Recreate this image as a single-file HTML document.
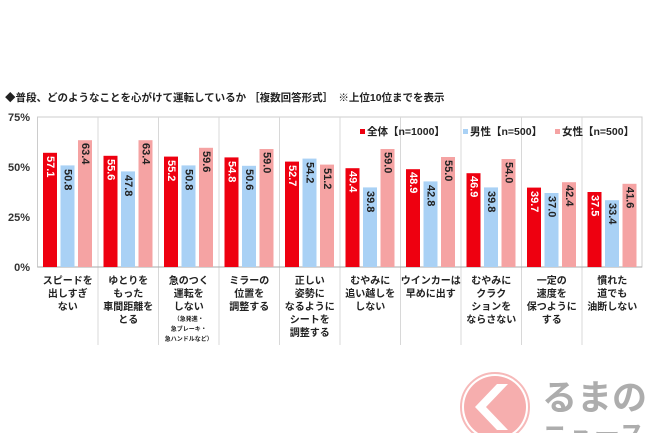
<!DOCTYPE html>
<html><head><meta charset="utf-8"><style>
html,body{margin:0;background:#fff;width:650px;height:433px;overflow:hidden}
svg{display:block;font-family:"Liberation Sans","Noto Sans CJK JP",sans-serif}
.v{font-size:11px;font-weight:bold;dominant-baseline:central}
.c{font-size:10px;font-weight:bold;text-anchor:middle;fill:#222}
.s{font-size:6px;font-weight:bold;text-anchor:middle;fill:#222}
.y{font-size:11px;font-weight:bold;text-anchor:end;fill:#333}
</style></head><body>
<svg width="650" height="433" viewBox="0 0 650 433">
<text x="5" y="101" font-size="10.5" font-weight="bold" fill="#222">◆普段、どのようなことを心がけて運転しているか ［複数回答形式］　※上位10位までを表示</text>
<rect x="37.5" y="117" width="604.5" height="150" fill="none" stroke="#ccc"/>
<g stroke="#d8d8d8">
<line x1="98" y1="117" x2="98" y2="345"/><line x1="158.5" y1="117" x2="158.5" y2="345"/><line x1="219" y1="117" x2="219" y2="345"/><line x1="279.5" y1="117" x2="279.5" y2="345"/><line x1="340" y1="117" x2="340" y2="345"/><line x1="400.5" y1="117" x2="400.5" y2="345"/><line x1="461" y1="117" x2="461" y2="345"/><line x1="521.5" y1="117" x2="521.5" y2="345"/><line x1="582" y1="117" x2="582" y2="345"/>
</g>
<line x1="37.5" y1="267" x2="642" y2="267" stroke="#aaa"/>
<text class="y" x="30" y="121">75%</text><text class="y" x="30" y="171">50%</text><text class="y" x="30" y="221">25%</text><text class="y" x="30" y="271">0%</text>
<g fill="#ee0010">
<rect x="43" y="152.8" width="14" height="114.2"/><rect x="103.5" y="155.8" width="14" height="111.2"/><rect x="164" y="156.6" width="14" height="110.4"/><rect x="224.5" y="157.4" width="14" height="109.6"/><rect x="285" y="161.6" width="14" height="105.4"/><rect x="345.5" y="168.2" width="14" height="98.8"/><rect x="406" y="169.2" width="14" height="97.8"/><rect x="466.5" y="173.2" width="14" height="93.8"/><rect x="527" y="187.6" width="14" height="79.4"/><rect x="587.5" y="192" width="14" height="75"/>
</g>
<g fill="#a9d1f5">
<rect x="60.5" y="165.4" width="14" height="101.6"/><rect x="121" y="171.4" width="14" height="95.6"/><rect x="181.5" y="165.4" width="14" height="101.6"/><rect x="242" y="165.8" width="14" height="101.2"/><rect x="302.5" y="158.6" width="14" height="108.4"/><rect x="363" y="187.4" width="14" height="79.6"/><rect x="423.5" y="181.4" width="14" height="85.6"/><rect x="484" y="187.4" width="14" height="79.6"/><rect x="544.5" y="193" width="14" height="74"/><rect x="605" y="200.2" width="14" height="66.8"/>
</g>
<g fill="#f5a3a3">
<rect x="78" y="140.2" width="14" height="126.8"/><rect x="138.5" y="140.2" width="14" height="126.8"/><rect x="199" y="147.8" width="14" height="119.2"/><rect x="259.5" y="149" width="14" height="118"/><rect x="320" y="164.6" width="14" height="102.4"/><rect x="380.5" y="149" width="14" height="118"/><rect x="441" y="157" width="14" height="110"/><rect x="501.5" y="159" width="14" height="108"/><rect x="562" y="182.2" width="14" height="84.8"/><rect x="622.5" y="183.8" width="14" height="83.2"/>
</g>
<g class="v" fill="#fff">
<text transform="translate(50,156) rotate(90)">57.1</text><text transform="translate(110.5,159) rotate(90)">55.6</text><text transform="translate(171,160) rotate(90)">55.2</text><text transform="translate(231.5,161) rotate(90)">54.8</text><text transform="translate(292,165) rotate(90)">52.7</text><text transform="translate(352.5,171) rotate(90)">49.4</text><text transform="translate(413,172) rotate(90)">48.9</text><text transform="translate(473.5,176) rotate(90)">46.9</text><text transform="translate(534,191) rotate(90)">39.7</text><text transform="translate(594.5,195) rotate(90)">37.5</text>
</g>
<g class="v" fill="#222">
<text transform="translate(67.5,169) rotate(90)">50.8</text><text transform="translate(128,175) rotate(90)">47.8</text><text transform="translate(188.5,169) rotate(90)">50.8</text><text transform="translate(249,169) rotate(90)">50.6</text><text transform="translate(309.5,162) rotate(90)">54.2</text><text transform="translate(370,191) rotate(90)">39.8</text><text transform="translate(430.5,185) rotate(90)">42.8</text><text transform="translate(491,191) rotate(90)">39.8</text><text transform="translate(551.5,196) rotate(90)">37.0</text><text transform="translate(612,203) rotate(90)">33.4</text>
<text transform="translate(85,143) rotate(90)">63.4</text><text transform="translate(145.5,143) rotate(90)">63.4</text><text transform="translate(206,151) rotate(90)">59.6</text><text transform="translate(266.5,152) rotate(90)">59.0</text><text transform="translate(327,168) rotate(90)">51.2</text><text transform="translate(387.5,152) rotate(90)">59.0</text><text transform="translate(448,160) rotate(90)">55.0</text><text transform="translate(508.5,162) rotate(90)">54.0</text><text transform="translate(569,185) rotate(90)">42.4</text><text transform="translate(629.5,187) rotate(90)">41.6</text>
</g>
<g font-size="10.5" font-weight="bold" fill="#222">
<rect x="360" y="129" width="5" height="5" fill="#ee0010"/><text x="367" y="135">全体【n=1000】</text>
<rect x="463" y="129" width="5" height="5" fill="#a9d1f5"/><text x="470" y="135">男性【n=500】</text>
<rect x="555" y="129" width="5" height="5" fill="#f5a3a3"/><text x="562" y="135">女性【n=500】</text>
</g>
<g class="c">
<text x="67.75" y="284">スピードを</text><text x="67.75" y="297">出しすぎ</text><text x="67.75" y="310">ない</text>
<text x="128.25" y="284">ゆとりを</text><text x="128.25" y="297">もった</text><text x="128.25" y="310">車間距離を</text><text x="128.25" y="323">とる</text>
<text x="188.75" y="284">急のつく</text><text x="188.75" y="297">運転を</text><text x="188.75" y="310">しない</text>
<text x="249.25" y="284">ミラーの</text><text x="249.25" y="297">位置を</text><text x="249.25" y="310">調整する</text>
<text x="309.75" y="284">正しい</text><text x="309.75" y="297">姿勢に</text><text x="309.75" y="310">なるように</text><text x="309.75" y="323">シートを</text><text x="309.75" y="336">調整する</text>
<text x="370.25" y="284">むやみに</text><text x="370.25" y="297">追い越しを</text><text x="370.25" y="310">しない</text>
<text x="430.75" y="284">ウインカーは</text><text x="430.75" y="297">早めに出す</text>
<text x="491.25" y="284">むやみに</text><text x="491.25" y="297">クラク</text><text x="491.25" y="310">ションを</text><text x="491.25" y="323">ならさない</text>
<text x="551.75" y="284">一定の</text><text x="551.75" y="297">速度を</text><text x="551.75" y="310">保つように</text><text x="551.75" y="323">する</text>
<text x="612.25" y="284">慣れた</text><text x="612.25" y="297">道でも</text><text x="612.25" y="310">油断しない</text>
</g>
<g class="s">
<text x="188.75" y="321">（急発進・</text><text x="188.75" y="331">急ブレーキ・</text><text x="188.75" y="341">急ハンドルなど）</text>
</g>
<g opacity="0.8">
<circle cx="495" cy="407" r="31" fill="#f59a9a"/>
<circle cx="495" cy="407" r="34" fill="none" stroke="#f5a8a8" stroke-width="2"/>
<path d="M508 384 L486 407 L508 430 L497 430 L475 407 L497 384 Z" fill="#fff"/>
<text x="542" y="410" font-size="35" font-weight="bold" fill="#999">るまの</text>
<text x="542" y="444" font-size="26" font-weight="bold" fill="#999">ニュース</text>
</g>
</svg>
</body></html>
